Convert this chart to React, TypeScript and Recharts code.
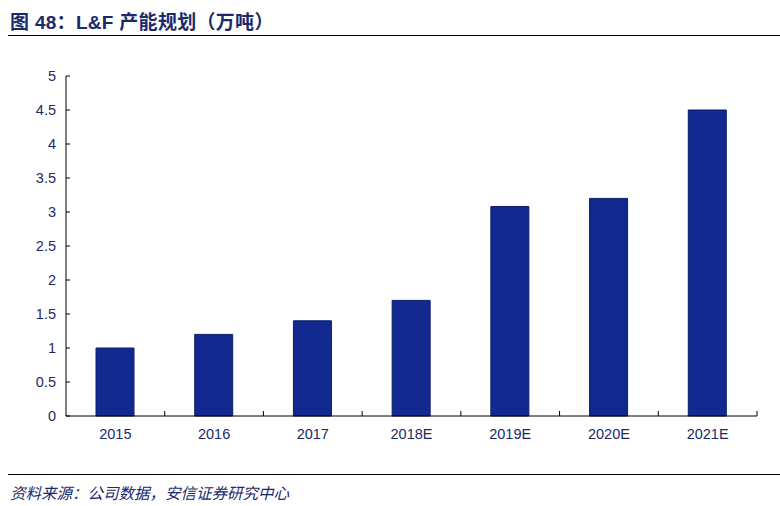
import React from 'react';
import { BarChart, Bar, XAxis, YAxis } from 'recharts';

const years = ['2015', '2016', '2017', '2018E', '2019E', '2020E', '2021E'];
const capacity = [1.0, 1.2, 1.4, 1.7, 3.08, 3.2, 4.5];
const yTicks = [0, 0.5, 1, 1.5, 2, 2.5, 3, 3.5, 4, 4.5, 5];

const data = years.map((year, i) => ({ year, value: capacity[i] }));

const navy = '#1b2a6b';
const barFill = '#12298f';
const font = 'Arial, "Liberation Sans", "Noto Sans CJK SC", sans-serif';

const W = 780;
const H = 506;
const X_HEIGHT = 30;
const M = { top: 76, right: 23, bottom: 90 - X_HEIGHT, left: 10 };
const Y_WIDTH = 56;
const band = (W - M.left - Y_WIDTH - M.right) / years.length;

// label at band centre, small upward tick at the band's right edge
const XTick = (props: any) => {
  const { x, y, payload } = props;
  const axisY = H - 90;
  const edge = x + band / 2;
  return (
    <g>
      <line x1={edge} x2={edge} y1={axisY} y2={axisY - 5} stroke="#000" strokeWidth={1} />
      <text x={x} y={y} dy={15} textAnchor="middle" fill={navy} fontSize={14.5} fontFamily={font}>
        {payload.value}
      </text>
    </g>
  );
};

const App = () => (
  <div style={{ position: 'absolute', left: 0, top: 0, width: W, height: H, background: '#fff' }}>
    <div
      style={{
        position: 'absolute', left: 10, top: 7, fontSize: 19, fontWeight: 'bold',
        color: navy, fontFamily: font, letterSpacing: 0.3,
      }}
    >
      图 48：L&amp;F 产能规划（万吨）
    </div>
    <div style={{ position: 'absolute', left: 8, right: 0, top: 35, height: 1, background: '#000' }} />

    <BarChart width={W} height={H} data={data} margin={M} barCategoryGap="0%">
      <XAxis
        dataKey="year"
        axisLine={{ stroke: '#000', strokeWidth: 1 }}
        tickLine={false}
        tick={<XTick />}
        interval={0}
        height={X_HEIGHT}
      />
      <YAxis
        domain={[0, 5]}
        ticks={yTicks}
        width={Y_WIDTH}
        axisLine={{ stroke: '#000', strokeWidth: 1 }}
        tickLine={{ stroke: '#000' }}
        tickSize={-4}
        tickMargin={14}
        tick={{ fill: navy, fontSize: 14.5, fontFamily: font }}
        interval={0}
      />
      <Bar dataKey="value" fill={barFill} stroke="#0b1c6e" strokeWidth={1} barSize={38} isAnimationActive={false} />
    </BarChart>

    <div style={{ position: 'absolute', left: 8, right: 0, top: 474, height: 1, background: '#000' }} />
    <div
      style={{
        position: 'absolute', left: 10, top: 481, fontSize: 15.5, fontStyle: 'italic',
        color: navy, fontFamily: font,
      }}
    >
      资料来源：公司数据，安信证券研究中心
    </div>
  </div>
);

export default App;
